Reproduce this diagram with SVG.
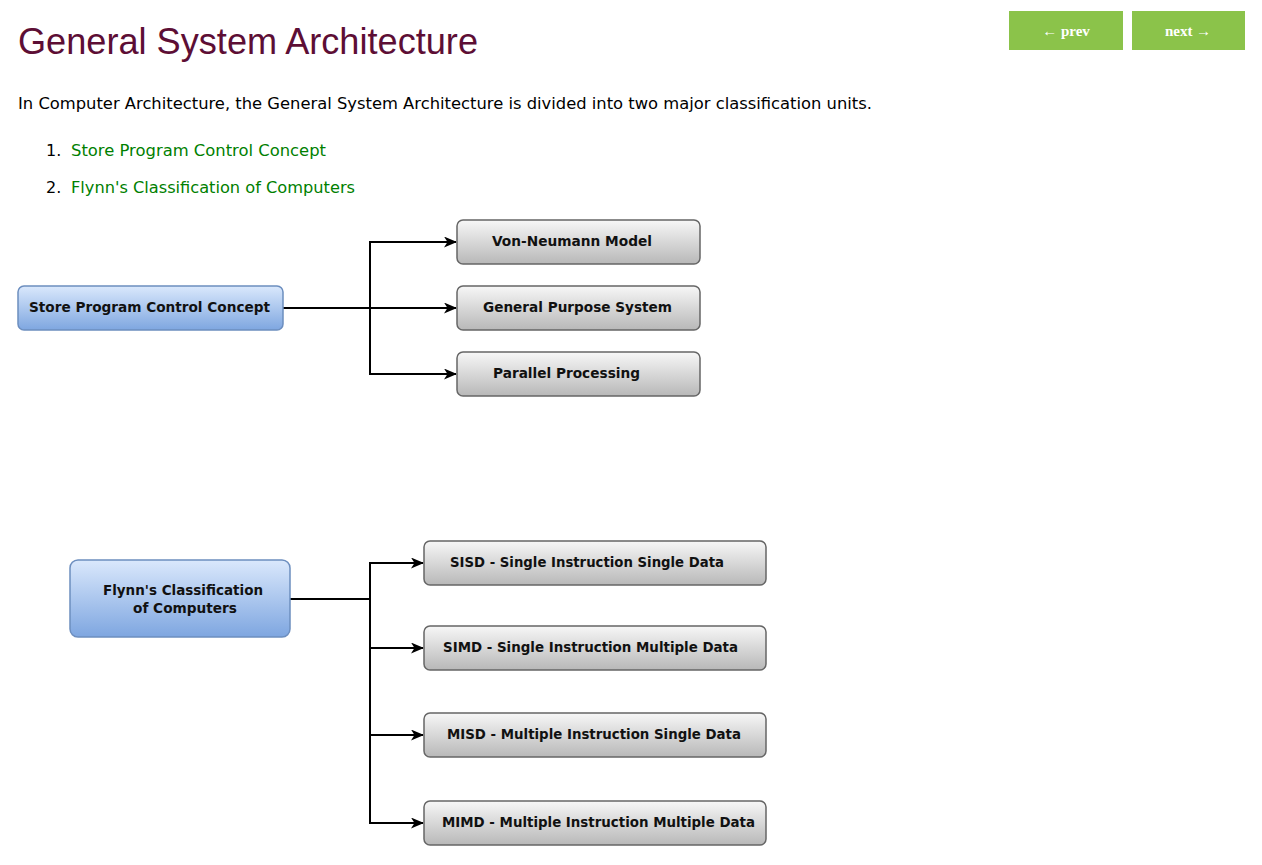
<svg xmlns="http://www.w3.org/2000/svg" width="1262" height="865" viewBox="0 0 1262 865">
<defs>
<linearGradient id="blue" x1="0" y1="0" x2="0" y2="1"><stop offset="0" stop-color="#dae8fc"/><stop offset="1" stop-color="#7ea6e0"/></linearGradient>
<linearGradient id="gray" x1="0" y1="0" x2="0" y2="1"><stop offset="0" stop-color="#f7f7f7"/><stop offset="1" stop-color="#b8b8b8"/></linearGradient>
<marker id="arr" markerWidth="13" markerHeight="11" refX="12" refY="5.5" orient="auto" markerUnits="userSpaceOnUse"><path d="M0,0 L13,5.5 L0,11 L3.5,5.5 Z" fill="#000"/></marker>
</defs>
<style>
.title{font-family:"Liberation Sans",Arial,sans-serif;font-size:36px;fill:#5d0e35}
.para{font-family:"DejaVu Sans",Verdana,sans-serif;font-size:16px;fill:#000}
.link{font-family:"DejaVu Sans",Verdana,sans-serif;font-size:16px;fill:#008000}
.btn{fill:#8bc34a}
.btxt{font-family:"Liberation Serif","Times New Roman",serif;font-size:15px;font-weight:bold;fill:#fff;text-anchor:middle}
.bnode{fill:url(#blue);stroke:#6c8ebf;stroke-width:1.5}
.gnode{fill:url(#gray);stroke:#666;stroke-width:1.5}
.lbl{font-family:"DejaVu Sans",Verdana,sans-serif;font-size:14px;font-weight:bold;fill:#111}
.conn{fill:none;stroke:#000;stroke-width:2}
</style>
<rect width="1262" height="865" fill="#fff"/>
<text class="title" x="18" y="54" textLength="460" lengthAdjust="spacingAndGlyphs">General System Architecture</text>
<g id="prev"><rect class="btn" x="1009" y="11" width="114" height="39"/><text class="btxt" x="1066" y="36">← prev</text></g>
<g id="next"><rect class="btn" x="1132" y="11" width="113" height="39"/><text class="btxt" x="1188" y="36">next →</text></g>
<text class="para" x="18" y="109" textLength="854" lengthAdjust="spacingAndGlyphs">In Computer Architecture, the General System Architecture is divided into two major classification units.</text>
<text class="para" x="46" y="156">1.</text>
<text class="link" x="71" y="156" textLength="255" lengthAdjust="spacingAndGlyphs">Store Program Control Concept</text>
<text class="para" x="46" y="193">2.</text>
<text class="link" x="71" y="193" textLength="284" lengthAdjust="spacingAndGlyphs">Flynn's Classification of Computers</text>

<g id="connectors">
<path class="conn" d="M283,308 H456" marker-end="url(#arr)"/>
<path class="conn" d="M370,308 V242 H456" marker-end="url(#arr)"/>
<path class="conn" d="M370,308 V374 H456" marker-end="url(#arr)"/>
<path class="conn" d="M290,599 H370 V563 H423" marker-end="url(#arr)"/>
<path class="conn" d="M370,599 V648 H423" marker-end="url(#arr)"/>
<path class="conn" d="M370,648 V735 H423" marker-end="url(#arr)"/>
<path class="conn" d="M370,735 V823 H423" marker-end="url(#arr)"/>
</g>

<g id="spcc"><rect class="bnode" x="18" y="286" width="265" height="44" rx="6"/><text class="lbl" x="29" y="312" textLength="241" lengthAdjust="spacingAndGlyphs">Store Program Control Concept</text></g>
<g id="vonneumann"><rect class="gnode" x="457" y="220" width="243" height="44" rx="6"/><text class="lbl" x="492" y="246" textLength="160" lengthAdjust="spacingAndGlyphs">Von-Neumann Model</text></g>
<g id="gps"><rect class="gnode" x="457" y="286" width="243" height="44" rx="6"/><text class="lbl" x="483" y="312" textLength="189" lengthAdjust="spacingAndGlyphs">General Purpose System</text></g>
<g id="pp"><rect class="gnode" x="457" y="352" width="243" height="44" rx="6"/><text class="lbl" x="493" y="378" textLength="147" lengthAdjust="spacingAndGlyphs">Parallel Processing</text></g>

<g id="flynn"><rect class="bnode" x="70" y="560" width="220" height="77" rx="8"/><text class="lbl" x="103" y="595" textLength="160" lengthAdjust="spacingAndGlyphs">Flynn's Classification</text><text class="lbl" x="133" y="613" textLength="104" lengthAdjust="spacingAndGlyphs">of Computers</text></g>
<g id="sisd"><rect class="gnode" x="424" y="541" width="342" height="44" rx="6"/><text class="lbl" x="450" y="567" textLength="274" lengthAdjust="spacingAndGlyphs">SISD - Single Instruction Single Data</text></g>
<g id="simd"><rect class="gnode" x="424" y="626" width="342" height="44" rx="6"/><text class="lbl" x="443" y="652" textLength="295" lengthAdjust="spacingAndGlyphs">SIMD - Single Instruction Multiple Data</text></g>
<g id="misd"><rect class="gnode" x="424" y="713" width="342" height="44" rx="6"/><text class="lbl" x="447" y="739" textLength="294" lengthAdjust="spacingAndGlyphs">MISD - Multiple Instruction Single Data</text></g>
<g id="mimd"><rect class="gnode" x="424" y="801" width="342" height="44" rx="6"/><text class="lbl" x="442" y="827" textLength="313" lengthAdjust="spacingAndGlyphs">MIMD - Multiple Instruction Multiple Data</text></g>
</svg>
